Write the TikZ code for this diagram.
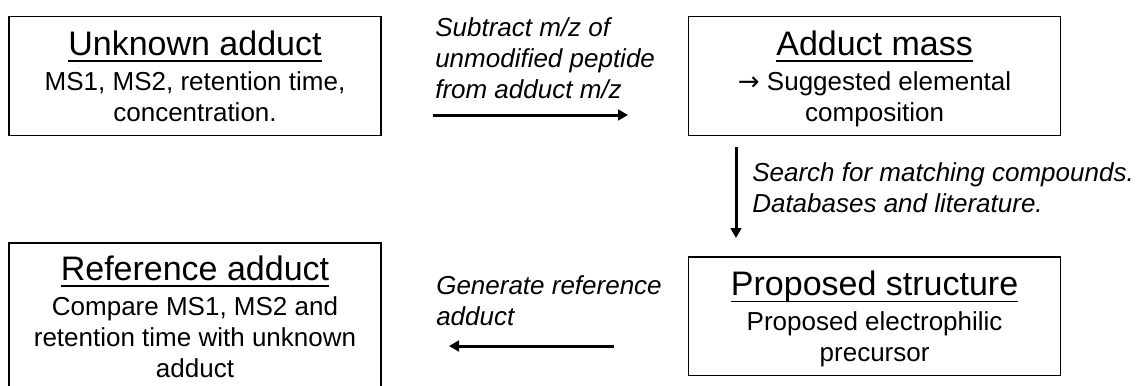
\documentclass[tikz,border=0pt]{standalone}
\usepackage{fontspec}
\setmainfont{Liberation Sans}
\newfontfamily\arrowfont{DejaVu Sans}
\usetikzlibrary{positioning,arrows.meta}

\tikzset{
  stage/.style={draw, line width=1.2pt, minimum width=279pt, minimum height=89pt, align=center, inner sep=4pt, text depth=0pt, font=\fontsize{19.5}{23.25}\selectfont},
  steplabel/.style={anchor=north west, align=left, inner sep=0pt, font=\fontsize{19.5}{23.25}\selectfont\itshape},
  flow/.style={-{Triangle[length=7.5pt,width=8pt]}, line width=2.25pt}
}
\newcommand{\stagetitle}[1]{{\fontsize{25.5}{30}\selectfont\setbox0\hbox{#1}\rlap{\rule[-5pt]{\wd0}{1.2pt}}\box0}}

\begin{document}
\begin{tikzpicture}[x=0.75pt,y=-0.75pt]
  \useasboundingbox (0,0) rectangle (1137,385);
  % the four stages
  \node[stage] (unknown) at (195,76) {\stagetitle{Unknown adduct}\\[3pt]MS1, MS2, retention time,\\concentration.};
  \node[stage, right=229.5pt of unknown] (mass) {\stagetitle{Adduct mass}\\[3pt]{\arrowfont →} Suggested elemental\\composition};
  \node[stage, below=90pt of mass] (proposed) {\stagetitle{Proposed structure}\\[3pt]Proposed electrophilic\\precursor};
  \node[stage, left=229.5pt of proposed, minimum height=109.5pt] (reference) {\stagetitle{Reference adduct}\\[3pt]Compare MS1, MS2 and\\retention time with unknown\\adduct};
  % step labels
  \node[steplabel] (subtract) at (435,17) {Subtract m/z of\\unmodified peptide\\from adduct m/z};
  \node[steplabel] (search) at (752,162) {Search for matching compounds.\\Databases and literature.};
  \node[steplabel] (generate) at (436,275) {Generate reference\\adduct};
  % arrows
  \coordinate (subS) at (433,115);
  \coordinate (subE) at (628,115);
  \coordinate (seaS) at (736,147);
  \coordinate (seaE) at (736,238);
  \coordinate (genS) at (614,346);
  \coordinate (genE) at (449,346);
  \draw[flow] (subS) -- (subE);
  \draw[flow] (seaS) -- (seaE);
  \draw[flow] (genS) -- (genE);
\end{tikzpicture}
\end{document}
